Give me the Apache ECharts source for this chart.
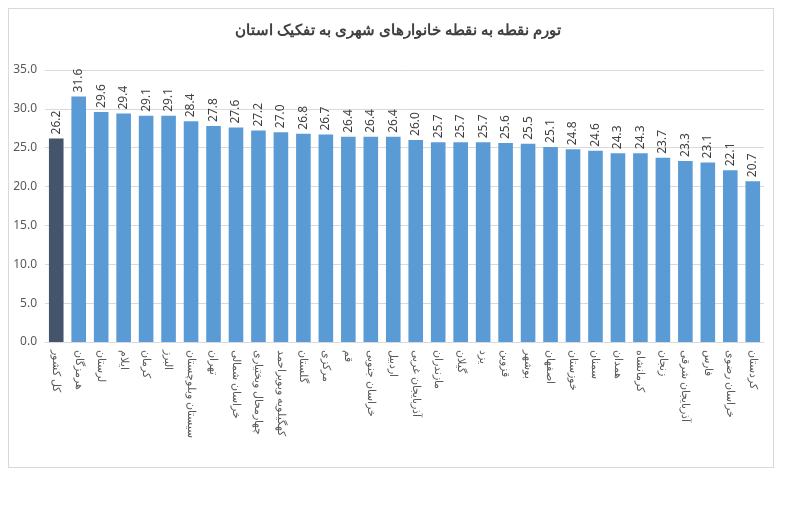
<!DOCTYPE html>
<html>
<head>
<meta charset="utf-8">
<script src="https://cdn.jsdelivr.net/npm/echarts@6/dist/echarts.min.js"></script>
<style>
  body { margin: 0; background: #fff; }
  #frame { position: absolute; left: 8px; top: 8px; width: 764px; height: 458px; border: 1px solid #d9d9d9; }
  #main { width: 796px; height: 513px; }
</style>
</head>
<body>
<div id="frame"></div>
<div id="main"></div>
<script>
var provinces = ['کل کشور', 'هرمزگان', 'لرستان', 'ایلام', 'کرمان', 'البرز', 'سیستان وبلوچستان', 'تهران',
  'خراسان شمالی', 'چهارمحال وبختیاری', 'کهگیلویه وبویراحمد', 'گلستان', 'مرکزی', 'قم', 'خراسان جنوبی',
  'اردبیل', 'آذربایجان غربی', 'مازندران', 'گیلان', 'یزد', 'قزوین', 'بوشهر', 'اصفهان', 'خوزستان',
  'سمنان', 'همدان', 'کرمانشاه', 'زنجان', 'آذربایجان شرقی', 'فارس', 'خراسان رضوی', 'کردستان'];
var inflation = [26.2, 31.6, 29.6, 29.4, 29.1, 29.1, 28.4, 27.8, 27.6, 27.2, 27.0, 26.8, 26.7, 26.4, 26.4,
  26.4, 26.0, 25.7, 25.7, 25.7, 25.6, 25.5, 25.1, 24.8, 24.6, 24.3, 24.3, 23.7, 23.3, 23.1, 22.1, 20.7];

var chart = echarts.init(document.getElementById('main'));
chart.setOption({
  animation: false,
  title: {
    text: 'تورم نقطه به نقطه خانوارهای شهری به تفکیک استان',
    left: 'center', top: 18,
    textStyle: { fontFamily: 'Noto Sans', fontSize: 15, fontWeight: 'bold', color: '#404040' }
  },
  grid: { left: 45, right: 32, top: 70, bottom: 171 },
  xAxis: {
    type: 'category',
    data: provinces,
    axisTick: { show: false },
    axisLine: { lineStyle: { color: '#d9d9d9' } },
    axisLabel: { rotate: -90, interval: 0, color: '#595959', fontFamily: 'Noto Sans', fontSize: 11, margin: 8 }
  },
  yAxis: {
    type: 'value', min: 0, max: 35, interval: 5,
    axisLabel: { formatter: function (v) { return v.toFixed(1); }, color: '#595959', fontFamily: 'Noto Sans', fontSize: 12 },
    splitLine: { lineStyle: { color: '#d9d9d9' } }
  },
  series: [{
    type: 'bar',
    data: inflation.map(function (v, i) {
      return { value: v, itemStyle: { color: i === 0 ? '#44546A' : '#5B9BD5' } };
    }),
    barCategoryGap: '35%',
    label: {
      show: true, position: 'top', rotate: 90, align: 'left', verticalAlign: 'middle', distance: 4,
      formatter: function (p) { return p.value.toFixed(1); },
      color: '#404040', fontFamily: 'Noto Sans', fontSize: 12
    }
  }]
});
</script>
</body>
</html>
